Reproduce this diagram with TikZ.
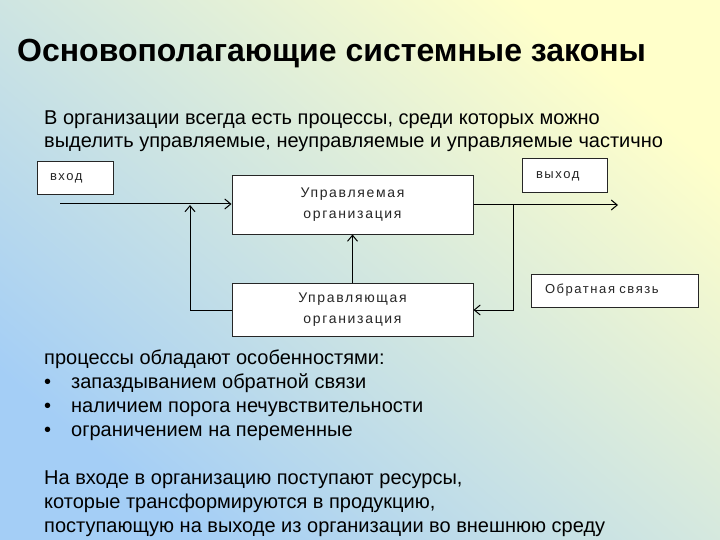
\documentclass[tikz,border=0pt]{standalone}
\usepackage{fontspec}
\setmainfont{Liberation Sans}
\newfontfamily\boxfont[LetterSpace=12]{Liberation Sans}
\usetikzlibrary{arrows.meta,positioning}
\definecolor{bgblue}{HTML}{A4CEF6}
\definecolor{bgyellow}{HTML}{FFFFCA}

\begin{document}
\begin{tikzpicture}[
    x=1pt, y=-1pt,
    box/.style={draw=black!85, fill=white, line width=1pt, inner sep=0pt,
        align=center, font=\boxfont\fontsize{14}{21}\selectfont, text=black!85},
    tag/.style={draw=black!85, fill=white, line width=1pt, inner sep=0pt,
        align=left, font=\boxfont\fontsize{13}{15}\selectfont, text=black!85},
    txt/.style={anchor=base west, inner sep=0pt, font=\fontsize{20}{24}\selectfont},
    arr/.style={-{Straight Barb[length=6pt, width=10pt]}, line width=1pt}
]
\useasboundingbox (0,0) rectangle (720,540);
\shade[top color=bgyellow, bottom color=bgblue, shading angle=-40] (0,0) rectangle (720,540);

% title and texts
\node[anchor=base west, inner sep=0pt, font=\bfseries\fontsize{32}{36}\selectfont] (title) at (17,62)
    {Основополагающие системные законы};
\node[txt] (intro1) at (44,125) {В организации всегда есть процессы, среди которых можно};
\node[txt] (intro2) at (44,148) {выделить управляемые, неуправляемые и управляемые частично};

% diagram
\node[box, minimum width=241pt, minimum height=58pt] (upr) at (352.5,205)
    {Управляемая\\организация};
\node[box, minimum width=241pt, minimum height=53pt] (ctl) at (352.5,310)
    {Управляющая\\организация};
\node[tag, minimum width=76pt, minimum height=33pt, text width=50pt] (inp) at (75,178) {вход};
\node[tag, minimum width=85pt, minimum height=34pt, text width=57pt] (out) at (564.5,176) {выход};
\node[tag, minimum width=167pt, minimum height=33pt, text width=139pt] (fbk) at (614.5,290.5) {Обратная связь};

\coordinate (inStart) at (60,204);
\coordinate (outEnd)  at (618,205);
\coordinate (branch)  at (513,205);
\coordinate (fbTop)   at (190,205);

\draw[arr] (inStart) -- (inStart -| upr.west);
\draw[arr] (upr.east) -- (outEnd);
\draw[arr] (branch) |- (ctl.east);
\draw[arr] (ctl.north) -- (upr.south);
\draw[arr] (ctl.west) -| (fbTop);

% features
\node[txt] (feat) at (44,364) {процессы обладают особенностями:};
\foreach \t [count=\i] in {запаздыванием обратной связи,
                           наличием порога нечувствительности,
                           ограничением на переменные} {
    \node[txt] (dot\i) at (44,364+24*\i) {•};
    \node[txt] (item\i) at (71,364+24*\i) {\t};
}
\node[txt] (res1) at (44,484) {На входе в организацию поступают ресурсы,};
\node[txt] (res2) at (44,508) {которые трансформируются в продукцию,};
\node[txt] (res3) at (44,532) {поступающую на выходе из организации во внешнюю среду};
\end{tikzpicture}
\end{document}
